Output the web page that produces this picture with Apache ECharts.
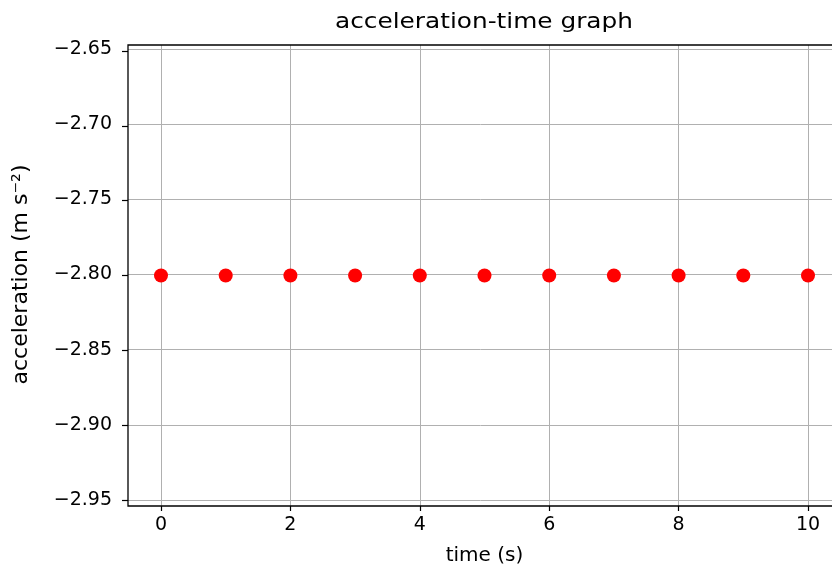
<!DOCTYPE html>
<html>
<head>
<meta charset="utf-8">
<script src="https://cdn.jsdelivr.net/npm/echarts@6/dist/echarts.min.js"></script>
<style>
  html, body { margin: 0; padding: 0; background: #fff; }
  #chart { width: 832px; height: 575px; }
</style>
</head>
<body>
<div id="chart"></div>
<script>
// Sampled time instants and the measured (constant) acceleration
const times = [0, 1, 2, 3, 4, 5, 6, 7, 8, 9, 10];
const accelerations = [-2.80, -2.80, -2.80, -2.80, -2.80, -2.80, -2.80, -2.80, -2.80, -2.80, -2.80];

// Axis tick settings
const xTickStart = 0, xTickEnd = 10, xTickStep = 2;
const yTickStart = -2.95, yTickEnd = -2.65, yTickStep = 0.05;
const yTickValues = [-2.95, -2.90, -2.85, -2.80, -2.75, -2.70, -2.65];
// Full data window of the plotting box
const xView = [-0.5, 10.5];
const yView = [-2.954, -2.646];

const titleText = 'acceleration-time graph';
const xName = 'time (s)';
const yName = 'acceleration (m s\u207B\u00B2)';

const FONT = 'DejaVu Sans';
const GRID_COLOR = '#b0b0b0';

const points = times.map((t, i) => [t, accelerations[i]]);

const chart = echarts.init(document.getElementById('chart'));

chart.setOption({
  animation: false,
  backgroundColor: '#ffffff',
  graphic: [
    {
      type: 'text',
      x: 484, y: 23,
      scaleX: 1.18,
      z: 20,
      style: {
        text: titleText,
        font: '21px "DejaVu Sans"',
        fill: '#000',
        align: 'center',
        verticalAlign: 'middle'
      }
    }
  ],
  grid: [
    // 0: x ticks 0..10 with vertical grid lines spanning the full box height
    { left: 161, width: 647, top: 45, bottom: 69, outerBoundsMode: 'none', containLabel: false },
    // 1: y labels -2.95..-2.65 with horizontal grid lines spanning the full box width
    { left: 128, width: 712, top: 49, bottom: 75, outerBoundsMode: 'none', containLabel: false },
    // 2: the frame, carrying the y tick marks
    { left: 128, width: 712, top: 45, bottom: 69, outerBoundsMode: 'none', containLabel: false,
      show: true, borderColor: '#000', borderWidth: 1.3, backgroundColor: 'transparent', z: 5 }
  ],
  xAxis: [
    {
      gridIndex: 0, type: 'value', min: xTickStart, max: xTickEnd, interval: xTickStep,
      axisLine: { show: false, onZero: false },
      axisTick: { show: true, inside: false, length: 5, lineStyle: { color: '#000', width: 1.2 } },
      axisLabel: { margin: 10, fontFamily: FONT, fontSize: 19, color: '#000' },
      splitLine: { show: true, lineStyle: { color: GRID_COLOR, width: 1 } },
      name: xName, nameLocation: 'middle', nameGap: 40,
      nameTextStyle: { fontFamily: FONT, fontSize: 20, color: '#000' }
    },
    { gridIndex: 1, type: 'value', min: xView[0], max: xView[1], show: false },
    { gridIndex: 2, type: 'value', min: xView[0], max: xView[1], show: false }
  ],
  yAxis: [
    { gridIndex: 0, type: 'value', min: yView[0], max: yView[1], show: false },
    {
      gridIndex: 1, type: 'value', min: yTickStart, max: yTickEnd, interval: yTickStep,
      position: 'left',
      axisLine: { show: false, onZero: false },
      axisTick: { show: false },
      axisLabel: {
        margin: 16, fontFamily: FONT, fontSize: 19, color: '#000',
        formatter: v => (v < 0 ? '\u2212' : '') + Math.abs(v).toFixed(2)
      },
      splitLine: { show: true, lineStyle: { color: GRID_COLOR, width: 1 } },
      name: yName, nameLocation: 'middle', nameGap: 96,
      nameTextStyle: { fontFamily: FONT, fontSize: 22, color: '#000' }
    },
    {
      gridIndex: 2, type: 'value', min: yView[0], max: yView[1],
      position: 'left',
      axisLine: { show: false, onZero: false },
      axisTick: { show: true, inside: false, length: 6, customValues: yTickValues,
                  lineStyle: { color: '#000', width: 1.2 } },
      axisLabel: { show: false },
      splitLine: { show: false }
    }
  ],
  series: [
    {
      type: 'scatter',
      xAxisIndex: 0, yAxisIndex: 0,
      data: points,
      symbol: 'circle',
      symbolSize: 14,
      clip: false,
      z: 10,
      itemStyle: { color: '#ff0000', opacity: 1 }
    }
  ]
});
</script>
</body>
</html>
